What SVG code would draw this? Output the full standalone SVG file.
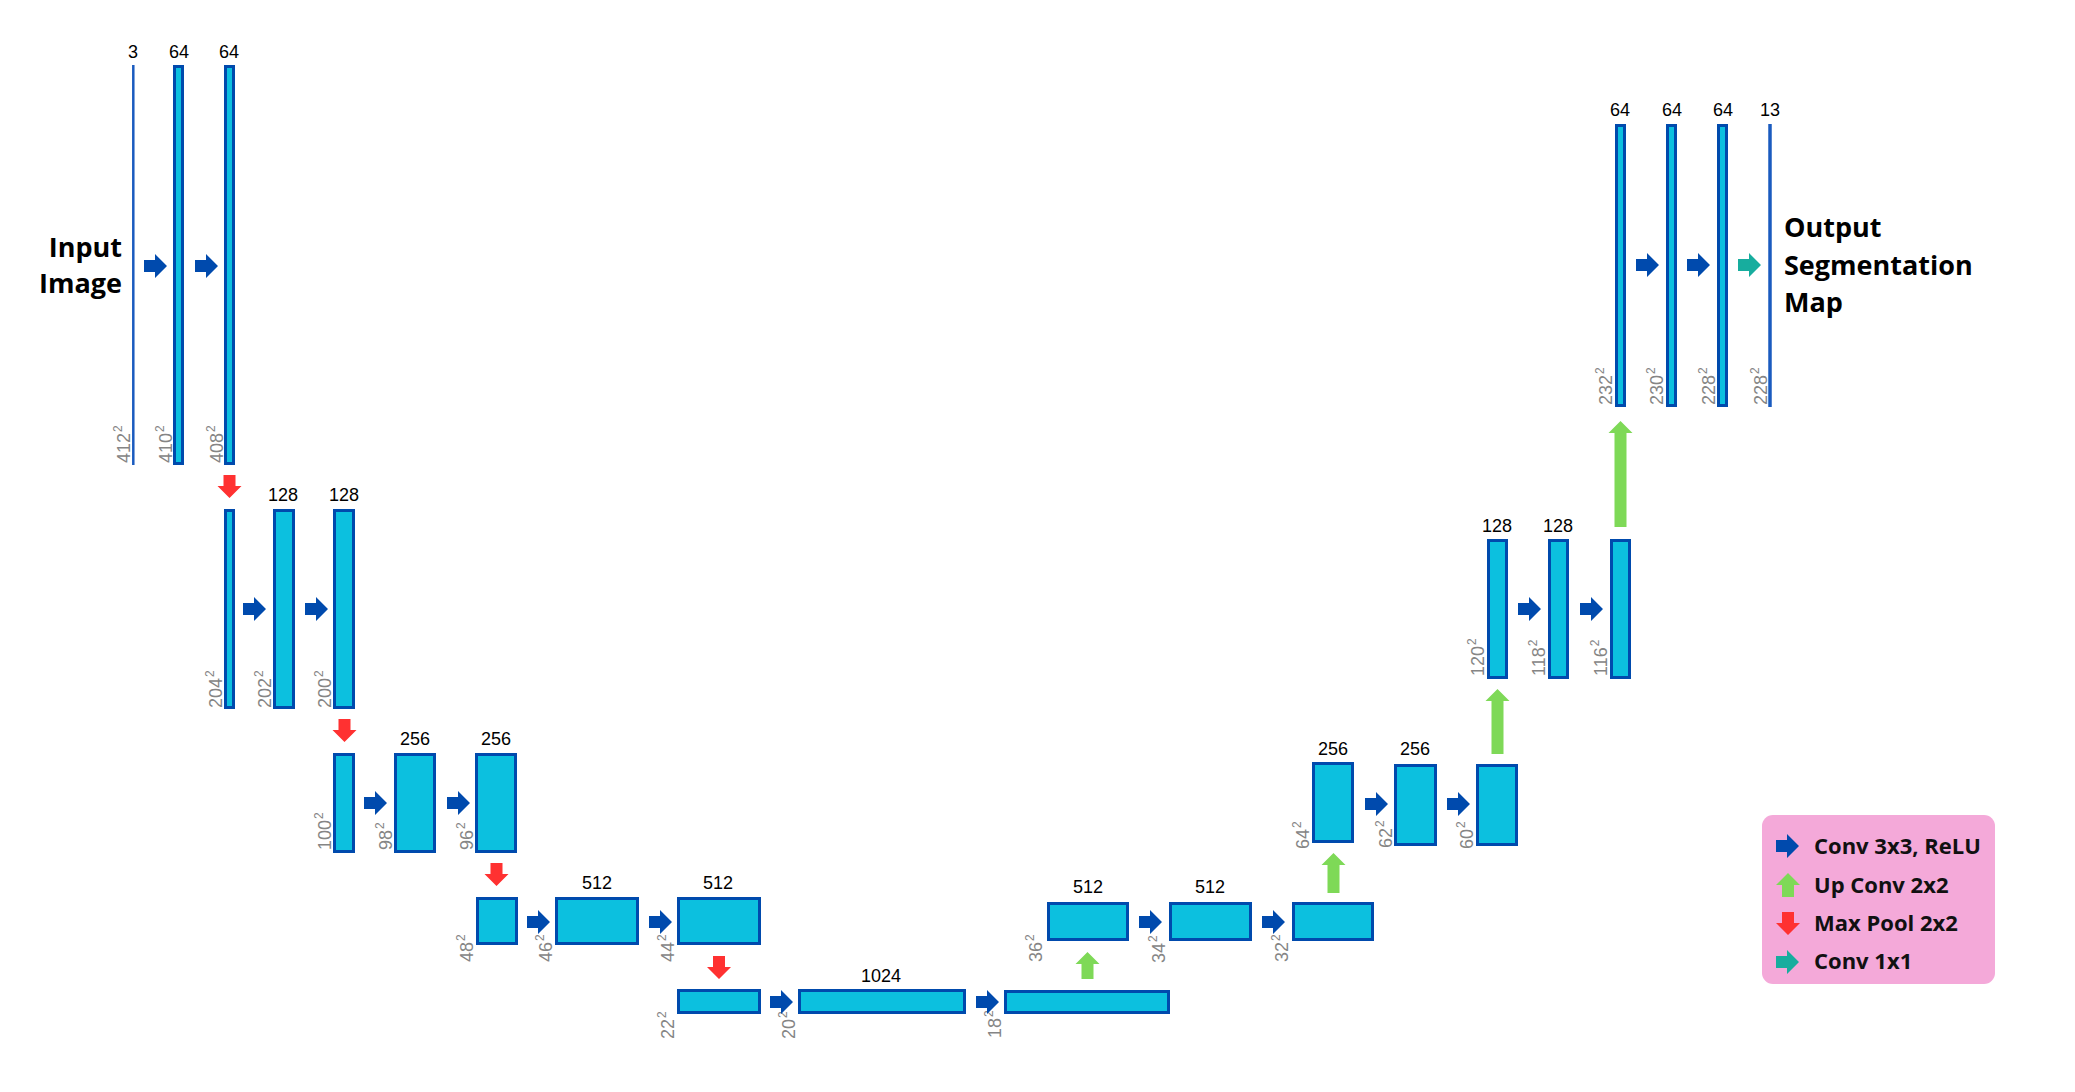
<svg xmlns="http://www.w3.org/2000/svg" xmlns:xlink="http://www.w3.org/1999/xlink" width="2075" height="1092" viewBox="0 0 2075 1092">
<style>
.bar{fill:#0cc0df;stroke:#004aad;stroke-width:3}
.ln{stroke:#1a5bbf;fill:none}
.num{font-family:"Liberation Sans",Arial,sans-serif;font-size:18px;fill:#000;text-anchor:middle}
.dim{font-family:"Liberation Sans",Arial,sans-serif;font-size:18px;fill:#858585}
.sup{font-size:12px}
.title{font-family:"Open Sans","Liberation Sans",sans-serif;font-size:27px;font-weight:bold;fill:#000}
.leg{font-family:"Open Sans","Liberation Sans",sans-serif;font-size:22px;font-weight:bold;fill:#111}
.blue{fill:#004aad}.red{fill:#ff3131}.green{fill:#7ed957}.teal{fill:#17ad9e}
</style>
<defs>
<path id="arR" d="M0,-6 H11 V-12 L23,0 L11,12 V6 H0 Z"/>
<path id="arD" d="M-6,0 H6 V11 H12 L0,23 L-12,11 H-6 Z"/>
<path id="arU" d="M0,0 L12,12 H6 V24 H-6 V12 H-12 Z"/>
</defs>
<rect width="2075" height="1092" fill="#fff"/>

<g id="title-input"><text class="title" x="122" y="257" text-anchor="end">Input</text><text class="title" x="122" y="293" text-anchor="end">Image</text></g>
<g id="title-output"><text class="title" x="1784" y="237">Output</text><text class="title" x="1784" y="275">Segmentation</text><text class="title" x="1784" y="312">Map</text></g>

<g id="n412"><line class="ln" x1="133.3" y1="65" x2="133.3" y2="465" stroke-width="2.5"/><text class="num" x="133" y="58">3</text><text class="dim" transform="translate(130,463) rotate(-90)">412<tspan class="sup" dx="1" dy="-8">2</tspan></text></g>
<g id="n410"><rect class="bar" x="174.5" y="66.5" width="8" height="397"/><text class="num" x="179" y="58">64</text><text class="dim" transform="translate(172,463) rotate(-90)">410<tspan class="sup" dx="1" dy="-8">2</tspan></text></g>
<g id="n408"><rect class="bar" x="225.5" y="66.5" width="8" height="397"/><text class="num" x="229" y="58">64</text><text class="dim" transform="translate(223,463) rotate(-90)">408<tspan class="sup" dx="1" dy="-8">2</tspan></text></g>

<g id="n204"><rect class="bar" x="225.5" y="510.5" width="8" height="197"/><text class="dim" transform="translate(222,708) rotate(-90)">204<tspan class="sup" dx="1" dy="-8">2</tspan></text></g>
<g id="n202"><rect class="bar" x="274.5" y="510.5" width="19" height="197"/><text class="num" x="283" y="501">128</text><text class="dim" transform="translate(271,708) rotate(-90)">202<tspan class="sup" dx="1" dy="-8">2</tspan></text></g>
<g id="n200"><rect class="bar" x="334.5" y="510.5" width="19" height="197"/><text class="num" x="344" y="501">128</text><text class="dim" transform="translate(331,708) rotate(-90)">200<tspan class="sup" dx="1" dy="-8">2</tspan></text></g>

<g id="n100"><rect class="bar" x="334.5" y="754.5" width="19" height="97"/><text class="dim" transform="translate(331,850) rotate(-90)">100<tspan class="sup" dx="1" dy="-8">2</tspan></text></g>
<g id="n98"><rect class="bar" x="395.5" y="754.5" width="39" height="97"/><text class="num" x="415" y="745">256</text><text class="dim" transform="translate(392,850) rotate(-90)">98<tspan class="sup" dx="1" dy="-8">2</tspan></text></g>
<g id="n96"><rect class="bar" x="476.5" y="754.5" width="39" height="97"/><text class="num" x="496" y="745">256</text><text class="dim" transform="translate(473,850) rotate(-90)">96<tspan class="sup" dx="1" dy="-8">2</tspan></text></g>

<g id="n48"><rect class="bar" x="477.5" y="898.5" width="39" height="45"/><text class="dim" transform="translate(473,962) rotate(-90)">48<tspan class="sup" dx="1" dy="-8">2</tspan></text></g>
<g id="n46"><rect class="bar" x="556.5" y="898.5" width="81" height="45"/><text class="num" x="597" y="889">512</text><text class="dim" transform="translate(552,962) rotate(-90)">46<tspan class="sup" dx="1" dy="-8">2</tspan></text></g>
<g id="n44"><rect class="bar" x="678.5" y="898.5" width="81" height="45"/><text class="num" x="718" y="889">512</text><text class="dim" transform="translate(674,962) rotate(-90)">44<tspan class="sup" dx="1" dy="-8">2</tspan></text></g>

<g id="n22"><rect class="bar" x="678.5" y="990.5" width="81" height="22"/><text class="dim" transform="translate(674,1039) rotate(-90)">22<tspan class="sup" dx="1" dy="-8">2</tspan></text></g>
<g id="n20"><rect class="bar" x="799.5" y="990.5" width="165" height="22"/><text class="num" x="881" y="982">1024</text><text class="dim" transform="translate(795,1039) rotate(-90)">20<tspan class="sup" dx="1" dy="-8">2</tspan></text></g>
<g id="n18"><rect class="bar" x="1005.5" y="991.5" width="163" height="21"/><text class="dim" transform="translate(1001,1038) rotate(-90)">18<tspan class="sup" dx="1" dy="-8">2</tspan></text></g>

<g id="n36"><rect class="bar" x="1048.5" y="903.5" width="79" height="36"/><text class="num" x="1088" y="893">512</text><text class="dim" transform="translate(1042,962) rotate(-90)">36<tspan class="sup" dx="1" dy="-8">2</tspan></text></g>
<g id="n34"><rect class="bar" x="1170.5" y="903.5" width="80" height="36"/><text class="num" x="1210" y="893">512</text><text class="dim" transform="translate(1165,963) rotate(-90)">34<tspan class="sup" dx="1" dy="-8">2</tspan></text></g>
<g id="n32"><rect class="bar" x="1293.5" y="903.5" width="79" height="36"/><text class="dim" transform="translate(1288,962) rotate(-90)">32<tspan class="sup" dx="1" dy="-8">2</tspan></text></g>

<g id="n64"><rect class="bar" x="1313.5" y="763.5" width="39" height="78"/><text class="num" x="1333" y="755">256</text><text class="dim" transform="translate(1309,849) rotate(-90)">64<tspan class="sup" dx="1" dy="-8">2</tspan></text></g>
<g id="n62"><rect class="bar" x="1395.5" y="765.5" width="40" height="79"/><text class="num" x="1415" y="755">256</text><text class="dim" transform="translate(1392,848) rotate(-90)">62<tspan class="sup" dx="1" dy="-8">2</tspan></text></g>
<g id="n60"><rect class="bar" x="1477.5" y="765.5" width="39" height="79"/><text class="dim" transform="translate(1473,849) rotate(-90)">60<tspan class="sup" dx="1" dy="-8">2</tspan></text></g>

<g id="n120"><rect class="bar" x="1488.5" y="540.5" width="18" height="137"/><text class="num" x="1497" y="532">128</text><text class="dim" transform="translate(1484,676) rotate(-90)">120<tspan class="sup" dx="1" dy="-8">2</tspan></text></g>
<g id="n118"><rect class="bar" x="1549.5" y="540.5" width="18" height="137"/><text class="num" x="1558" y="532">128</text><text class="dim" transform="translate(1545,676) rotate(-90)">118<tspan class="sup" dx="1" dy="-8">2</tspan></text></g>
<g id="n116"><rect class="bar" x="1611.5" y="540.5" width="18" height="137"/><text class="dim" transform="translate(1607,676) rotate(-90)">116<tspan class="sup" dx="1" dy="-8">2</tspan></text></g>

<g id="n232"><rect class="bar" x="1616.5" y="125.5" width="8" height="280"/><text class="num" x="1620" y="116">64</text><text class="dim" transform="translate(1612,405) rotate(-90)">232<tspan class="sup" dx="1" dy="-8">2</tspan></text></g>
<g id="n230"><rect class="bar" x="1667.5" y="125.5" width="8" height="280"/><text class="num" x="1672" y="116">64</text><text class="dim" transform="translate(1663,405) rotate(-90)">230<tspan class="sup" dx="1" dy="-8">2</tspan></text></g>
<g id="n228"><rect class="bar" x="1718.5" y="125.5" width="8" height="280"/><text class="num" x="1723" y="116">64</text><text class="dim" transform="translate(1715,405) rotate(-90)">228<tspan class="sup" dx="1" dy="-8">2</tspan></text></g>
<g id="nout"><line class="ln" x1="1770" y1="124" x2="1770" y2="407" stroke-width="3.5" stroke="#0a4fb5"/><text class="num" x="1770" y="116">13</text><text class="dim" transform="translate(1767,405) rotate(-90)">228<tspan class="sup" dx="1" dy="-8">2</tspan></text></g>

<g id="connectors">
<use href="#arR" class="blue" x="144" y="266"/><use href="#arR" class="blue" x="195" y="266"/>
<use href="#arR" class="blue" x="243" y="609"/><use href="#arR" class="blue" x="305" y="609"/>
<use href="#arR" class="blue" x="364" y="803"/><use href="#arR" class="blue" x="447" y="803"/>
<use href="#arR" class="blue" x="527" y="922"/><use href="#arR" class="blue" x="649" y="922"/>
<use href="#arR" class="blue" x="770" y="1002"/><use href="#arR" class="blue" x="976" y="1002"/>
<use href="#arR" class="blue" x="1139" y="922"/><use href="#arR" class="blue" x="1262" y="922"/>
<use href="#arR" class="blue" x="1365" y="804"/><use href="#arR" class="blue" x="1447" y="804"/>
<use href="#arR" class="blue" x="1518" y="609"/><use href="#arR" class="blue" x="1580" y="609"/>
<use href="#arR" class="blue" x="1636" y="265"/><use href="#arR" class="blue" x="1687" y="265"/>
<use href="#arR" class="teal" x="1738" y="265"/>
<use href="#arD" class="red" x="229.5" y="475"/>
<use href="#arD" class="red" x="344.5" y="719"/>
<use href="#arD" class="red" x="496.5" y="863"/>
<use href="#arD" class="red" x="719" y="956"/>
<path class="green" d="M1087.5,952 L1099.5,964 H1093.5 V979 H1081.5 V964 H1075.5 Z"/>
<path class="green" d="M1333.5,853 L1345.5,865 H1339.5 V893 H1327.5 V865 H1321.5 Z"/>
<path class="green" d="M1497.5,689 L1509.5,701 H1503.5 V754 H1491.5 V701 H1485.5 Z"/>
<path class="green" d="M1620.5,421 L1632.5,433 H1626.5 V527 H1614.5 V433 H1608.5 Z"/>
</g>

<g id="legend">
<rect x="1762" y="815" width="233" height="169" rx="11" fill="#f4a9d9"/>
<use href="#arR" class="blue" x="1776" y="846"/>
<use href="#arU" class="green" x="1788" y="873"/>
<use href="#arD" class="red" x="1788" y="912"/>
<use href="#arR" class="teal" x="1776" y="962"/>
<text class="leg" x="1814" y="854">Conv 3x3, ReLU</text>
<text class="leg" x="1814" y="893">Up Conv 2x2</text>
<text class="leg" x="1814" y="931">Max Pool 2x2</text>
<text class="leg" x="1814" y="969">Conv 1x1</text>
</g>
</svg>
